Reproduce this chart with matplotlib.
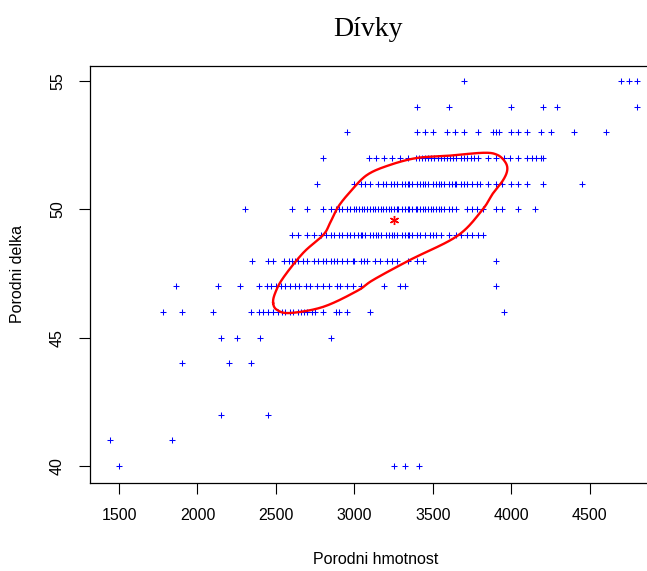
import numpy as np
import matplotlib.pyplot as plt

plt.rcParams['font.family'] = ['Liberation Sans', 'DejaVu Sans']

# porodni hmotnost [g] podle porodni delky [cm]
w55 = [3700, 4700, 4750, 4800]
w54 = [3400, 3600, 4000, 4200, 4290, 4800]
w53 = [2950, 3400, 3450, 3500, 3590, 3640, 3700, 3790, 3880, 3900, 3920,
       4000, 4040, 4100, 4190, 4250, 4400, 4600]
w52 = [2800, 3090, 3140, 3190, 3240, 3290, 3340, 3390, 3410, 3430, 3450,
       3470, 3490, 3510, 3530, 3550, 3570, 3590, 3610, 3630, 3650, 3680,
       3700, 3720, 3740, 3760, 3790, 3850, 3900, 3950, 3990, 4040, 4100,
       4130, 4160, 4190, 4200]
w51 = [2760, 3000, 3040, 3070, 3100, 3150, 3180, 3200, 3230, 3250, 3270,
       3300, 3320, 3340, 3350, 3370, 3400, 3420, 3440, 3450, 3470, 3500,
       3520, 3540, 3550, 3570, 3600, 3620, 3640, 3650, 3680, 3700, 3720,
       3750, 3780, 3800, 3850, 3900, 3940, 4000, 4040, 4100, 4200, 4450]
w50 = [2300, 2600, 2700, 2800, 2850, 2880, 2900, 2920, 2950, 2970, 3000,
       3010, 3030, 3050, 3060, 3080, 3100, 3120, 3130, 3150, 3170, 3180,
       3200, 3220, 3230, 3250, 3270, 3280, 3300, 3320, 3340, 3350, 3370,
       3390, 3400, 3420, 3440, 3450, 3470, 3490, 3500, 3520, 3540, 3550,
       3570, 3600, 3620, 3650, 3720, 3750, 3780, 3820, 3900, 3940, 4040,
       4150]
w49 = [2600, 2640, 2700, 2740, 2790, 2820, 2850, 2870, 2900, 2920, 2950,
       2970, 3000, 3020, 3040, 3050, 3070, 3100, 3120, 3140, 3150, 3170,
       3200, 3220, 3240, 3250, 3270, 3300, 3320, 3340, 3350, 3370, 3400,
       3420, 3450, 3480, 3500, 3520, 3550, 3600, 3650, 3680, 3720, 3750,
       3790, 3820]
w48 = [2350, 2450, 2480, 2550, 2580, 2600, 2620, 2640, 2670, 2700, 2740,
       2770, 2800, 2820, 2850, 2870, 2890, 2920, 2950, 2990, 3000, 3040,
       3060, 3080, 3130, 3160, 3210, 3240, 3270, 3340, 3400, 3440, 3900]
w47 = [1860, 2130, 2270, 2390, 2440, 2470, 2500, 2530, 2560, 2590, 2620,
       2650, 2690, 2720, 2760, 2800, 2840, 2890, 2910, 2950, 2990, 3040,
       3190, 3290, 3320, 3900]
w46 = [1780, 1900, 2100, 2340, 2390, 2420, 2450, 2480, 2510, 2540, 2560,
       2590, 2610, 2640, 2660, 2680, 2700, 2730, 2750, 2800, 2880, 2900,
       2950, 3100, 3950]
w45 = [2150, 2250, 2400, 2850]
w44 = [1900, 2200, 2340]
w42 = [2150, 2450]
w41 = [1440, 1840]
w40 = [1500, 3250, 3320, 3410]

rows = {55: w55, 54: w54, 53: w53, 52: w52, 51: w51, 50: w50, 49: w49,
        48: w48, 47: w47, 46: w46, 45: w45, 44: w44, 42: w42, 41: w41, 40: w40}

hmotnost = np.concatenate([np.array(v, float) for v in rows.values()])
delka = np.concatenate([np.full(len(v), k, float) for k, v in rows.items()])

# stred (prumer) a obrys oblasti
stred = (3250, 49.58)
obrys_x = [2482, 2495, 2546, 2673, 2801, 2845, 2896, 2973, 3081, 3228, 3400,
           3591, 3821, 3910, 3961, 3974, 3948, 3885, 3814, 3655, 3355, 3120,
           3017, 2801, 2590, 2507]
obrys_y = [46.35, 46.74, 47.33, 48.30, 49.00, 49.47, 50.09, 50.68, 51.34,
           51.73, 52.00, 52.08, 52.20, 52.12, 51.84, 51.53, 51.14, 50.64,
           49.97, 48.96, 48.03, 47.25, 46.82, 46.20, 45.96, 46.08]


def catmull_rom_closed(x, y, n=20):
	# uzavrena hladka krivka pres kontrolni body
	p = np.column_stack([x, y])
	k = len(p)
	out = []
	for i in range(k):
		p0, p1, p2, p3 = p[i - 1], p[i], p[(i + 1) % k], p[(i + 2) % k]
		t = np.linspace(0, 1, n, endpoint=False)[:, None]
		out.append(0.5 * ((2 * p1) + (-p0 + p2) * t +
		                  (2 * p0 - 5 * p1 + 4 * p2 - p3) * t ** 2 +
		                  (-p0 + 3 * p1 - 3 * p2 + p3) * t ** 3))
	out = np.vstack(out)
	return np.append(out[:, 0], out[0, 0]), np.append(out[:, 1], out[0, 1])


W, H = 647, 571
fig = plt.figure(figsize=(W / 100, H / 100), dpi=100)
left, right, top, bottom = 90, 662, 66, 483
ax = fig.add_axes([left / W, 1 - bottom / H, (right - left) / W, (bottom - top) / H])

ax.plot(hmotnost, delka, '+', color='#0000ff', ms=4.6, mew=0.75)
cx, cy = catmull_rom_closed(obrys_x, obrys_y)
ax.plot(cx, cy, color='red', lw=1.7)
ax.plot(*stred, marker=(6, 2, 0), color='red', ms=6.5, mew=1.0, ls='none')

ax.set_xlim(1315, 4960)
ax.set_ylim(39.34, 55.58)
ax.set_xticks([1500, 2000, 2500, 3000, 3500, 4000, 4500])
ax.set_yticks([40, 45, 50, 55])
ax.set_yticklabels(['40', '45', '50', '55'], rotation=90, va='center')
ax.tick_params(length=8, width=0.8, pad=10, labelsize=11.5)
for s in ax.spines.values():
	s.set_linewidth(0.9)

fig.text(376 / W, 1 - 560 / H, 'Porodni hmotnost', ha='center', va='center', fontsize=11.5)
fig.text(18 / W, 1 - 274 / H, 'Porodni delka', ha='center', va='center', rotation=90, fontsize=11.5)
fig.text(368 / W, 1 - 30 / H, 'Dívky', ha='center', va='center', fontsize=20,
         family=['Liberation Serif', 'DejaVu Serif'])

fig.savefig('out.png', dpi=100)
